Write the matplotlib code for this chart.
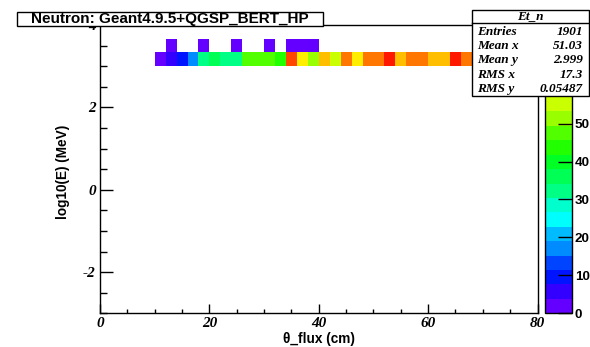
#!/usr/bin/env python3

import colorsys
import numpy as np
import matplotlib
matplotlib.use("Agg")
import matplotlib.pyplot as plt
from matplotlib.colors import ListedColormap, BoundaryNorm
from matplotlib.patches import Rectangle
from matplotlib.ticker import MultipleLocator

plt.rcParams["axes.unicode_minus"] = False

# -----------------------
# Data
# -----------------------
TITLE = "Neutron: Geant4.9.5+QGSP_BERT_HP"
HIST_NAME = "Et_n"

X_EDGES = np.arange(0, 82, 2)          # theta_flux bins, 2 cm wide
Y_EDGES = [3.0, 3.333, 3.667]          # log10(E) bins

# lower row (log10 E ~ 3), bins start at x = 10 cm
main_x = list(range(10, 80, 2))
main_counts = [3, 6, 9, 17, 32, 36, 32, 32, 47, 47, 47, 44, 70, 59, 51, 63, 55, 66,
               59, 66, 66, 74, 63, 66, 66, 63, 63, 74, 66,
               66, 63, 70, 66, 63, 61]

# upper row, only a few sparse bins
upper_x = [12, 18, 24, 30, 34, 36, 38]
upper_counts = [2, 2, 2, 2, 2, 2, 2]

stat_names = ["Entries", "Mean x", "Mean y", "RMS x", "RMS y"]
stat_values = ["1901", "51.03", "2.999", "17.3", "0.05487"]

Z_MAX = 76
N_LEVELS = 20
PALETTE_TICKS = [0, 10, 20, 30, 40, 50]   # 60, 70 sit under the stats box

# -----------------------
# Histogram array
# -----------------------
H = np.zeros((2, len(X_EDGES) - 1))
for x, c in zip(main_x, main_counts):
    H[0, x // 2] = c
for x, c in zip(upper_x, upper_counts):
    H[1, x // 2] = c

# ROOT "pretty" palette (hue 280 -> 0), picked for 20 contours
pal = []
for k in range(N_LEVELS):
    idx = int((k + 0.99) * 49 / N_LEVELS)
    hue = 280 - (idx + 1) * 5.6
    pal.append(colorsys.hls_to_rgb(hue / 360.0, 0.5, 1.0))
cmap = ListedColormap(pal)
cmap.set_bad("white")
norm = BoundaryNorm(np.linspace(0, Z_MAX, N_LEVELS + 1), N_LEVELS)

SANS = "Liberation Sans"
SERIF = "Liberation Serif"

W, HGT = 590, 347


def fx(px):
    return px / W


def fy(py):
    return 1 - py / HGT


# -----------------------
# Plotting
# -----------------------
fig = plt.figure(figsize=(5.9, 3.47), dpi=100)
ax = fig.add_axes([fx(100), fy(313.3), (537.5 - 100) / W, (313.3 - 25) / HGT])

mesh = ax.pcolormesh(X_EDGES, Y_EDGES, np.ma.masked_equal(H, 0),
                     cmap=cmap, norm=norm, edgecolors="none", antialiased=False)
ax.set_xlim(0, 80)
ax.set_ylim(-3, 4)

for s in ax.spines.values():
    s.set_linewidth(1.0)

ax.xaxis.set_major_locator(MultipleLocator(20))
ax.xaxis.set_minor_locator(MultipleLocator(5))
ax.yaxis.set_major_locator(MultipleLocator(2))
ax.yaxis.set_minor_locator(MultipleLocator(0.5))
ax.tick_params(axis="x", which="major", direction="in", length=6.2, width=1, pad=3)
ax.tick_params(axis="x", which="minor", direction="in", length=3.1, width=1)
ax.tick_params(axis="y", which="major", direction="in", length=9.4, width=1, pad=3)
ax.tick_params(axis="y", which="minor", direction="in", length=4.7, width=1)

for lbl in ax.get_xticklabels() + ax.get_yticklabels():
    lbl.set_fontfamily(SERIF)
    lbl.set_fontweight("bold")
    lbl.set_fontstyle("italic")
    lbl.set_fontsize(11)

ax.set_xlabel("θ_flux (cm)", fontfamily=SANS, fontweight="bold", fontsize=9.8,
              va="center")
ax.set_ylabel("log10(E) (MeV)", fontfamily=SANS, fontweight="bold", fontsize=9.8,
              va="center")
ax.xaxis.set_label_coords(0.5, (313.3 - 339) / 288.3)
ax.yaxis.set_label_coords((63 - 100) / 437.5, 0.49)

# palette
cax = fig.add_axes([fx(545), fy(313.3), 27 / W, (313.3 - 25) / HGT])
cb = fig.colorbar(mesh, cax=cax, ticks=PALETTE_TICKS)
cb.outline.set_linewidth(1.0)
cax.tick_params(which="major", direction="in", length=10, width=1, pad=2)
cax.tick_params(which="minor", length=0)
for lbl in cax.get_yticklabels():
    lbl.set_fontfamily(SANS)
    lbl.set_fontweight("bold")
    lbl.set_fontsize(9.7)

# title box
fig.add_artist(Rectangle((fx(17), fy(26)), (323 - 17) / W, (26 - 12) / HGT,
                         transform=fig.transFigure, facecolor="white",
                         edgecolor="black", linewidth=1, zorder=5))
fig.text(fx(170), fy(19), TITLE, ha="center", va="center", fontfamily=SANS,
         fontweight="bold", fontsize=11, zorder=6)

# stats box
fig.add_artist(Rectangle((fx(471.7), fy(96)), (589 - 471.7) / W, (96 - 10) / HGT,
                         transform=fig.transFigure, facecolor="white",
                         edgecolor="black", linewidth=1, zorder=5))
fig.add_artist(plt.Line2D([fx(471.7), fx(589)], [fy(22.7), fy(22.7)],
                          transform=fig.transFigure, color="black", linewidth=1, zorder=6))
fig.text(fx(530), fy(16.5), HIST_NAME, ha="center", va="center", fontfamily=SERIF,
         fontweight="bold", fontstyle="italic", fontsize=9.5, zorder=6)
row_y = [32.3, 46.3, 60.3, 74.5, 89]
for name, val, yy in zip(stat_names, stat_values, row_y):
    fig.text(fx(477), fy(yy), name, ha="left", va="center", fontfamily=SERIF,
             fontweight="bold", fontstyle="italic", fontsize=9.5, zorder=6)
    fig.text(fx(582.7), fy(yy), val, ha="right", va="center", fontfamily=SERIF,
             fontweight="bold", fontstyle="italic", fontsize=9.5, zorder=6)

fig.savefig("out.png", dpi=100)
plt.close(fig)
